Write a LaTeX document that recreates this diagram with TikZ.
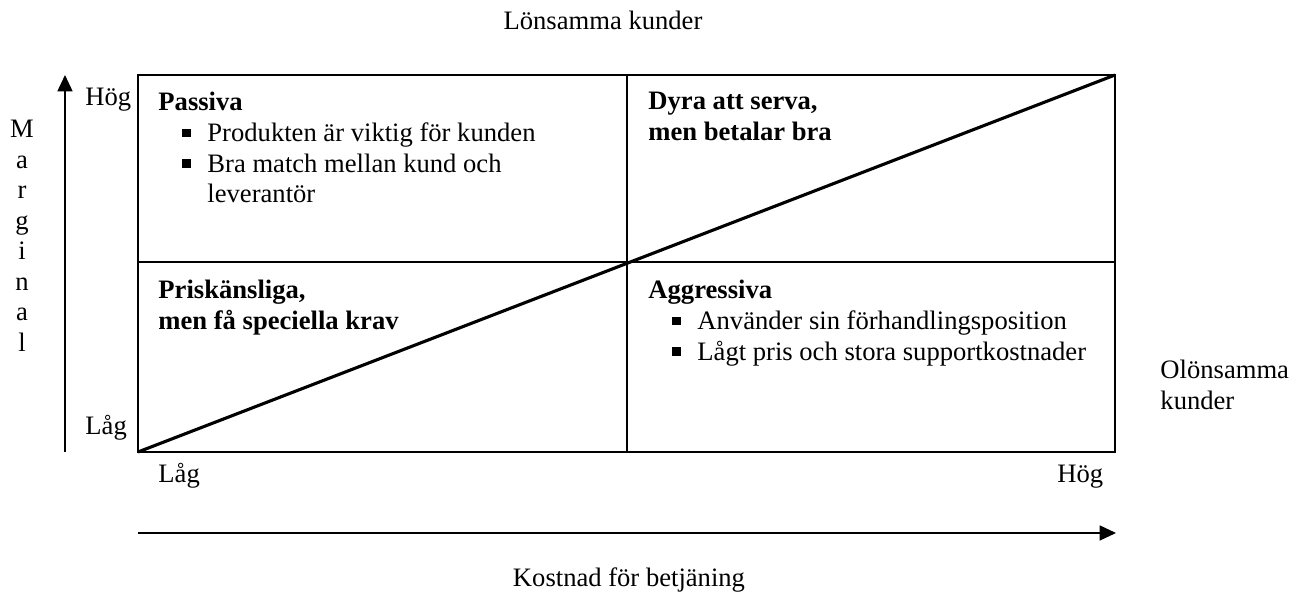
\documentclass[tikz,border=0pt]{standalone}
\usepackage{fontspec}
\setmainfont{Liberation Serif}
\usetikzlibrary{arrows.meta,positioning}
\tikzset{%
	matrixbox/.style = {line width=0.9pt},
	diagline/.style  = {line width=1.4pt},
	axisarrow/.style = {line width=0.7pt,-{Triangle[length=7.4pt,width=6.8pt]}},
	quadtext/.style  = {anchor=north west, align=left, inner sep=0pt},
	ticklabel/.style = {anchor=base west, inner sep=0pt},
}
\newcommand{\pkt}{\hspace*{10.8pt}\rule[2pt]{3.7pt}{3.7pt}\hspace*{7.6pt}}
\newcommand{\pktfri}{\hspace*{22.1pt}}

\begin{document}
\begin{tikzpicture}[x=0.451pt,y=-0.451pt,font=\fontsize{12pt}{13.8pt}\selectfont]
	\useasboundingbox (0,0) rectangle (1299,598);
	% the four quadrants
	\coordinate (sw) at (138,452);
	\coordinate (ne) at (1115,75);
	\coordinate (mid) at (627,262);
	\draw[matrixbox] (sw) rectangle (ne);
	\draw[matrixbox] (sw -| mid) -- (ne -| mid);
	\draw[matrixbox] (sw |- mid) -- (ne |- mid);
	\draw[diagline] (sw) -- (ne);
	% axes
	\coordinate (yfoot) at (65,452);
	\coordinate (ytip) at (65,75);
	\coordinate (xfoot) at (138,533);
	\coordinate (xtip) at (1116,533);
	\draw[axisarrow] (yfoot) -- (ytip);
	\draw[axisarrow] (xfoot) -- (xtip);
	\node[ticklabel] (yhog) at (85,106) {Hög};
	\node[ticklabel] (ylag) at (85,435) {Låg};
	\node[ticklabel] (xlag) at (158,483) {Låg};
	\node[ticklabel] (xhog) at (1057,483) {Hög};
	\node[anchor=north, align=center, inner sep=0pt, font=\fontsize{12pt}{13.75pt}\selectfont] (marginal) at (22,120) {M\\a\\r\\g\\i\\n\\a\\l};
	\node[anchor=base, inner sep=0pt] (lonsamma) at (603,30) {Lönsamma kunder};
	\node[anchor=base, inner sep=0pt] (kostnad) at (629,587) {Kostnad för betjäning};
	\node[quadtext] (olonsamma) at (1160,360) {Olönsamma\\kunder};
	% quadrant texts
	\node[quadtext] (passiva) at (158,92) {\textbf{Passiva}\\
		\pkt Produkten är viktig för kunden\\
		\pkt Bra match mellan kund och\\
		\pktfri leverantör};
	\node[quadtext, font=\fontsize{12pt}{13.8pt}\selectfont\bfseries] (dyra) at (648,92) {Dyra att serva,\\men betalar bra};
	\node[quadtext, font=\fontsize{12pt}{13.8pt}\selectfont\bfseries] (priskanslig) at (158,280) {Priskänsliga,\\men få speciella krav};
	\node[quadtext] (aggressiva) at (648,280) {\textbf{Aggressiva}\\
		\pkt Använder sin förhandlingsposition\\
		\pkt Lågt pris och stora supportkostnader};
\end{tikzpicture}
\end{document}
